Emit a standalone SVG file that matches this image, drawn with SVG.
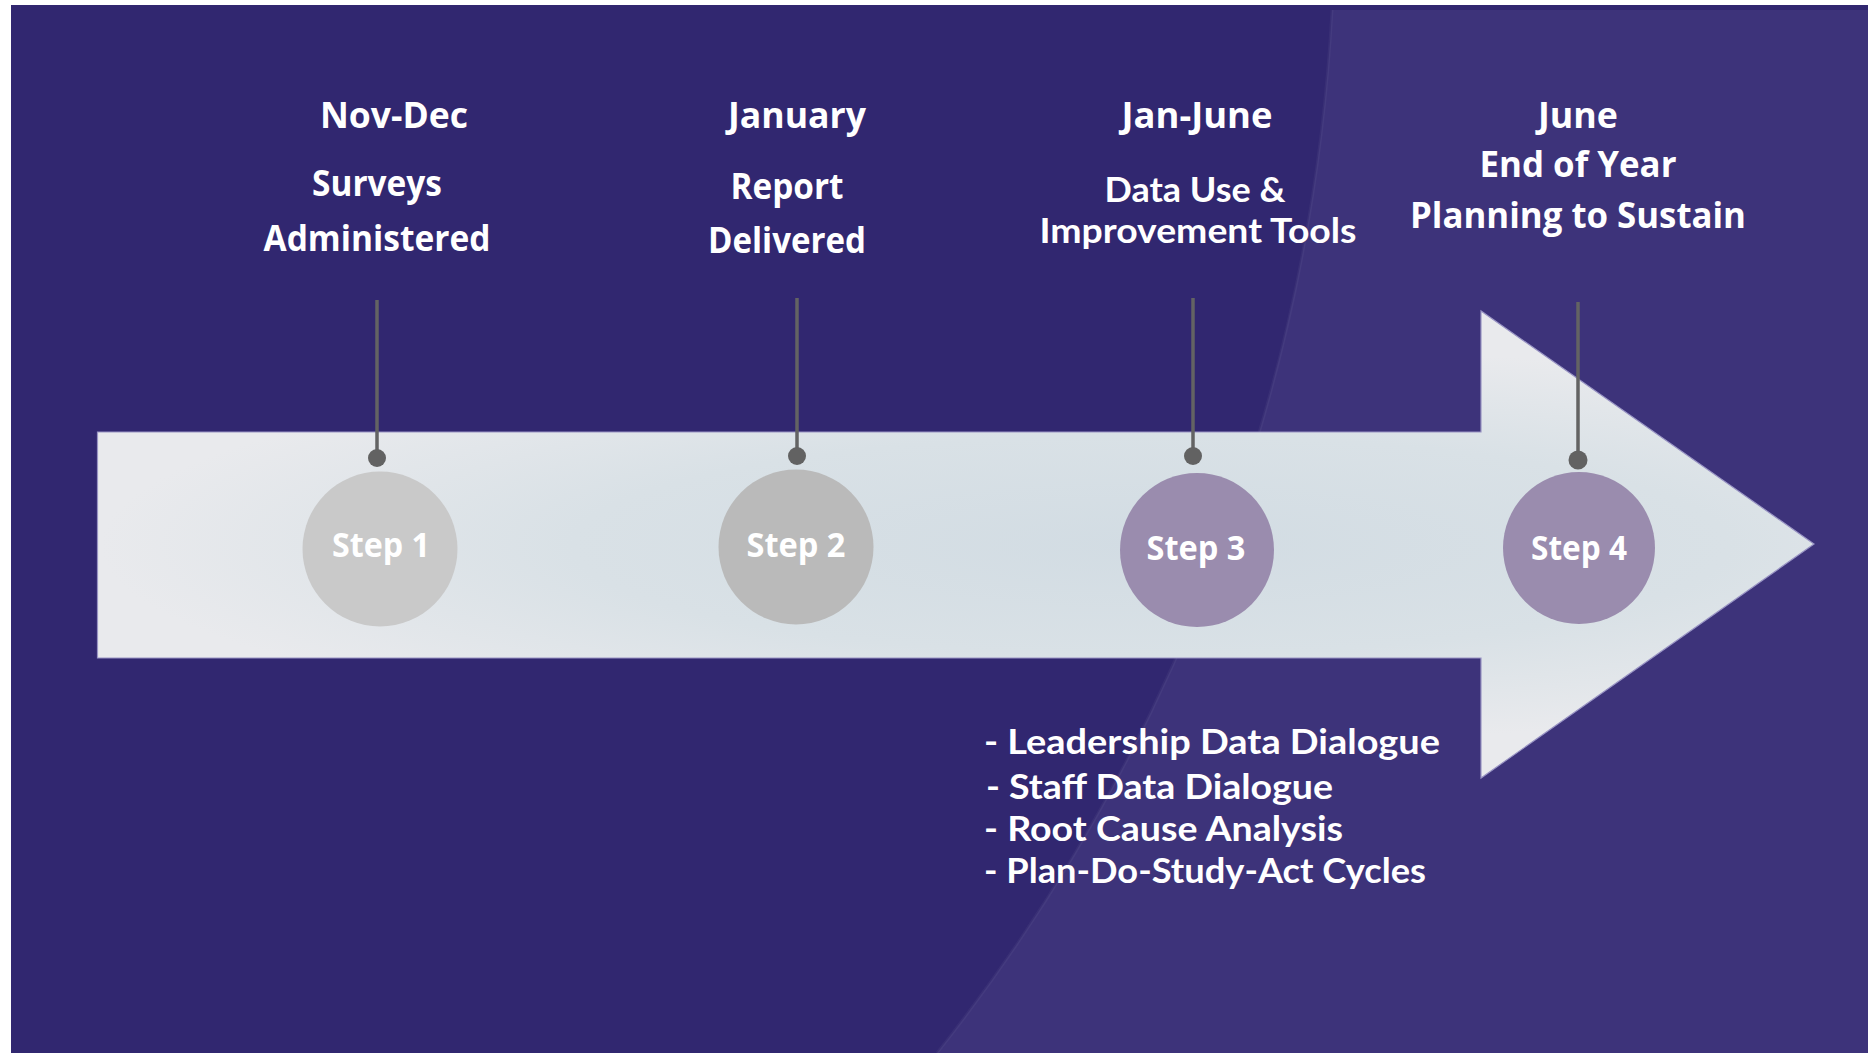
<svg xmlns="http://www.w3.org/2000/svg" width="1868" height="1053" viewBox="0 0 1868 1053">
  <style>
    .hd { font-family: "Open Sans", "Noto Sans", "DejaVu Sans", sans-serif; font-weight: 700; font-size: 36px; fill: #ffffff; text-anchor: middle; }
    .tight { font-family: Lato, "Open Sans", "DejaVu Sans", sans-serif; font-weight: 700; font-size: 34px; fill: #ffffff; }
    .st { font-family: "Open Sans", "Noto Sans", "DejaVu Sans", sans-serif; font-weight: 700; font-size: 34px; fill: #ffffff; text-anchor: middle; }
    .pin { stroke: #636363; stroke-width: 3.5; fill: none; }
    .dot { fill: #626262; }
    .grey1 { fill: #c9c9c9; }
    .grey2 { fill: #bababa; }
    .purp { fill: #9a8cae; }
  </style>
  <defs>
    <radialGradient id="arrowFill" gradientUnits="userSpaceOnUse" cx="0" cy="0" r="1" gradientTransform="translate(1150 545) scale(1050 200)">
      <stop offset="0" stop-color="#d2dce3"/>
      <stop offset="0.55" stop-color="#d9e1e6"/>
      <stop offset="1" stop-color="#e9eaed"/>
    </radialGradient>
  </defs>

  <!-- background -->
  <rect x="0" y="0" width="1868" height="1053" fill="#ffffff"/>
  <rect x="11" y="5" width="1857" height="1048" fill="#312770"/>
  <path d="M1332,10 A1841,1841 0 0,1 937,1053 L1868,1053 L1868,10 Z" fill="#3d337a"/>
  <path d="M1332,10 A1841,1841 0 0,1 937,1053" fill="none" stroke="#ffffff" stroke-opacity="0.04" stroke-width="3"/>

  <!-- arrow -->
  <g id="arrow">
    <path d="M97.5,432 L1481,432 L1481,311 L1814,544 L1481,778 L1481,658 L97.5,658 Z" fill="url(#arrowFill)" stroke="#9994c4" stroke-width="1.2"/>
  </g>

  <!-- connectors (pins) -->
  <g id="connectors">
    <line class="pin" x1="377" y1="300" x2="377" y2="458"/>
    <circle class="dot" cx="377" cy="458" r="9"/>
    <line class="pin" x1="797" y1="298" x2="797" y2="456"/>
    <circle class="dot" cx="797" cy="456" r="9"/>
    <line class="pin" x1="1193" y1="298" x2="1193" y2="456"/>
    <circle class="dot" cx="1193" cy="456" r="9"/>
    <line class="pin" x1="1578" y1="302" x2="1578" y2="460" stroke-width="6"/>
    <circle class="dot" cx="1578" cy="460" r="9.5"/>
  </g>

  <!-- step nodes -->
  <g id="step1">
    <circle class="grey1" cx="380" cy="549" r="77.5"/>
    <text class="st" x="381" y="557" textLength="98" lengthAdjust="spacingAndGlyphs">Step 1</text>
  </g>
  <g id="step2">
    <circle class="grey2" cx="796" cy="547" r="77.5"/>
    <text class="st" x="796" y="557" textLength="99" lengthAdjust="spacingAndGlyphs">Step 2</text>
  </g>
  <g id="step3">
    <circle class="purp" cx="1197" cy="550" r="77"/>
    <text class="st" x="1196" y="560" textLength="99" lengthAdjust="spacingAndGlyphs">Step 3</text>
  </g>
  <g id="step4">
    <circle class="purp" cx="1579" cy="548" r="76"/>
    <text class="st" x="1579" y="560" textLength="96" lengthAdjust="spacingAndGlyphs">Step 4</text>
  </g>

  <!-- headings -->
  <g id="label1">
    <text class="hd" x="394" y="128" textLength="148" lengthAdjust="spacingAndGlyphs">Nov-Dec</text>
    <text class="hd" x="377" y="196" textLength="130" lengthAdjust="spacingAndGlyphs">Surveys</text>
    <text class="hd" x="377" y="251" textLength="227" lengthAdjust="spacingAndGlyphs">Administered</text>
  </g>
  <g id="label2">
    <text class="hd" x="797" y="128" textLength="138" lengthAdjust="spacingAndGlyphs">January</text>
    <text class="hd" x="787" y="199" textLength="113" lengthAdjust="spacingAndGlyphs">Report</text>
    <text class="hd" x="787" y="253" textLength="158" lengthAdjust="spacingAndGlyphs">Delivered</text>
  </g>
  <g id="label3">
    <text class="hd" x="1197" y="128" textLength="151" lengthAdjust="spacingAndGlyphs">Jan-June</text>
    <text class="tight" text-anchor="middle" x="1195" y="202" textLength="181" lengthAdjust="spacingAndGlyphs">Data Use &amp;</text>
    <text class="tight" text-anchor="middle" x="1198" y="243" textLength="317" lengthAdjust="spacingAndGlyphs">Improvement Tools</text>
  </g>
  <g id="label4">
    <text class="hd" x="1578" y="128" textLength="80" lengthAdjust="spacingAndGlyphs">June</text>
    <text class="hd" x="1578" y="177" textLength="197" lengthAdjust="spacingAndGlyphs">End of Year</text>
    <text class="hd" x="1578" y="228" textLength="336" lengthAdjust="spacingAndGlyphs">Planning to Sustain</text>
  </g>

  <!-- tools list -->
  <g id="tools">
    <text class="tight" x="984" y="754" textLength="456" lengthAdjust="spacingAndGlyphs">- Leadership Data Dialogue</text>
    <text class="tight" x="986" y="799" textLength="347" lengthAdjust="spacingAndGlyphs">- Staff Data Dialogue</text>
    <text class="tight" x="984" y="841" textLength="359" lengthAdjust="spacingAndGlyphs">- Root Cause Analysis</text>
    <text class="tight" x="984" y="883" textLength="442" lengthAdjust="spacingAndGlyphs">- Plan-Do-Study-Act Cycles</text>
  </g>
</svg>
